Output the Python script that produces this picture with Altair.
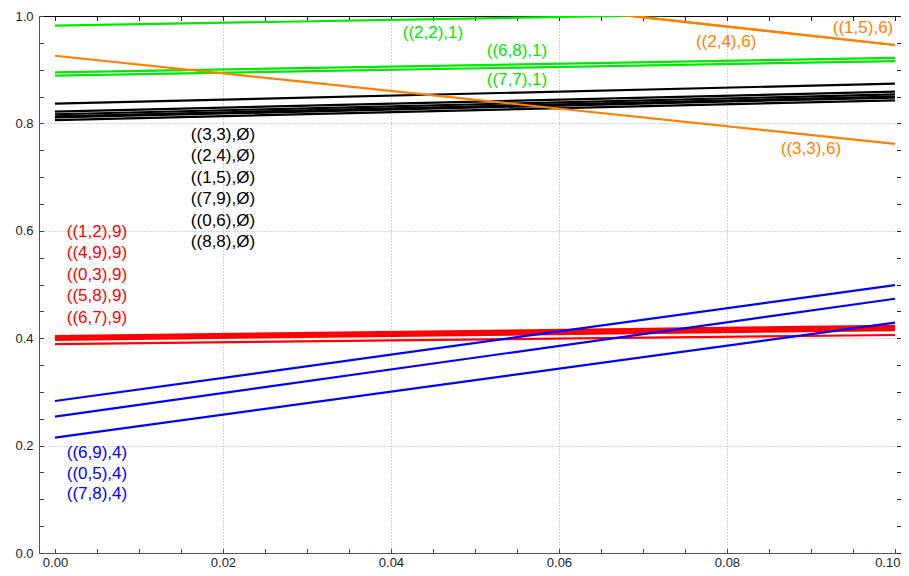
import altair as alt
import pandas as pd

# ---------------- data ----------------
series_names = [
    "((2,2),1)", "((6,8),1)", "((7,7),1)",
    "((3,3),Ø)", "((2,4),Ø)", "((1,5),Ø)", "((7,9),Ø)", "((0,6),Ø)", "((8,8),Ø)",
    "((1,2),9)", "((4,9),9)", "((0,3),9)", "((5,8),9)", "((6,7),9)",
    "((1,5),6)", "((2,4),6)", "((3,3),6)",
    "((6,9),4)", "((0,5),4)", "((7,8),4)",
]
series_group = [
    "1", "1", "1",
    "Ø", "Ø", "Ø", "Ø", "Ø", "Ø",
    "9", "9", "9", "9", "9",
    "6", "6", "6",
    "4", "4", "4",
]
series_start = [
    0.982, 0.895, 0.889,
    0.837, 0.822, 0.817, 0.813, 0.811, 0.806,
    0.404, 0.402, 0.399, 0.397, 0.389,
    1.118, 1.118, 0.926,
    0.283, 0.254, 0.215,
]
series_end = [
    1.009, 0.922, 0.916,
    0.874, 0.859, 0.854, 0.850, 0.848, 0.843,
    0.423, 0.421, 0.418, 0.415, 0.406,
    0.946, 0.946, 0.762,
    0.499, 0.4735, 0.429,
]
x_start = 0.0
x_end = 0.1

label_text = [
    "((2,2),1)", "((6,8),1)", "((7,7),1)",
    "((3,3),Ø)", "((2,4),Ø)", "((1,5),Ø)", "((7,9),Ø)", "((0,6),Ø)", "((8,8),Ø)",
    "((1,2),9)", "((4,9),9)", "((0,3),9)", "((5,8),9)", "((6,7),9)",
    "((1,5),6)", "((2,4),6)", "((3,3),6)",
    "((6,9),4)", "((0,5),4)", "((7,8),4)",
]
label_group = series_group
label_x = [
    0.0450, 0.0550, 0.0550,
    0.0200, 0.0200, 0.0200, 0.0200, 0.0200, 0.0200,
    0.0050, 0.0050, 0.0050, 0.0050, 0.0050,
    0.0962, 0.0799, 0.0900,
    0.0050, 0.0050, 0.0050,
]
label_y = [
    0.9685, 0.934, 0.8815,
    0.779, 0.739, 0.699, 0.659, 0.619, 0.580,
    0.598, 0.558, 0.518, 0.478, 0.438,
    0.977, 0.9524, 0.752,
    0.187, 0.148, 0.110,
]

groups = ["1", "Ø", "9", "6", "4"]
group_colors = ["#00e800", "#000000", "#ff0000", "#ff8000", "#0000ff"]
draw_order = ["1", "Ø", "9", "6", "4"]

x_ticks = [round(i * 0.005, 3) for i in range(21)]
y_ticks = [round(i * 0.05, 2) for i in range(21)]

# ---------------- tables ----------------
rows = []
for n, g, s, e in zip(series_names, series_group, series_start, series_end):
    rows.append({"series": n, "group": g, "x": x_start, "y": s})
    rows.append({"series": n, "group": g, "x": x_end, "y": e})
lines_df = pd.DataFrame(rows)
labels_df = pd.DataFrame({"text": label_text, "group": label_group,
                          "x": label_x, "y": label_y})

x_scale = alt.Scale(domain=[-0.0019, 0.10072], nice=False, zero=False)
y_scale = alt.Scale(domain=[0, 1], nice=False, zero=False)
color_scale = alt.Scale(domain=groups, range=group_colors)

x_major = "abs(datum.value*50 - round(datum.value*50)) < 1e-6"
y_major = "abs(datum.value*5 - round(datum.value*5)) < 1e-6"

bottom_axis = alt.Axis(
    orient="bottom", values=x_ticks, title=None,
    labelExpr=f"{x_major} ? format(datum.value, '.2f') : ''",
    labelAlign={"condition": {"test": "datum.value > 0.099", "value": "right"}, "value": "center"},
    labelOffset={"condition": {"test": "datum.value > 0.099", "value": 5}, "value": 0},
    tickSize={"expr": "-4.5"}, tickColor="#444", domainColor="#555",
    labelPadding=7.5, labelFontSize=13, labelColor="#222", labelFont="Liberation Sans",
    grid=True, gridColor="#aaaaaa", gridDash=[1, 2],
    gridOpacity={"condition": {"test": f"{x_major} && datum.value > 0.001 && datum.value < 0.099", "value": 1}, "value": 0},
)
left_axis = alt.Axis(
    orient="left", values=y_ticks, title=None,
    labelExpr=f"{y_major} ? format(datum.value, '.1f') : ''",
    tickSize={"expr": "-4.5"}, tickColor="#444", domainColor="#555",
    labelPadding=10.5, labelFontSize=13, labelColor="#222", labelFont="Liberation Sans",
    grid=True, gridColor="#aaaaaa", gridDash=[1, 2],
    gridOpacity={"condition": {"test": f"{y_major} && datum.value > 0.01 && datum.value < 0.99", "value": 1}, "value": 0},
)
top_axis = alt.Axis(
    orient="top", values=x_ticks, title=None, labels=False, grid=False,
    tickSize={"expr": "-4.5"}, tickColor="#222", domainColor="#000",
)
right_axis = alt.Axis(
    orient="right", values=y_ticks, title=None, labels=False, grid=False,
    tickSize={"expr": "-4.5"}, tickColor="#222", domain=False,
)

layers = []
for i, g in enumerate(draw_order):
    sub = lines_df[lines_df["group"] == g]
    layers.append(
        alt.Chart(sub).mark_line(clip=True, strokeWidth=2.2).encode(
            x=alt.X("x:Q", scale=x_scale, axis=bottom_axis if i == 0 else None),
            y=alt.Y("y:Q", scale=y_scale, axis=left_axis if i == 0 else None),
            color=alt.Color("group:N", scale=color_scale, legend=None),
            detail="series:N",
        )
    )

text_layer = alt.Chart(labels_df).mark_text(
    font="Liberation Sans", fontSize=17, align="center", baseline="middle"
).encode(
    x=alt.X("x:Q", scale=x_scale, axis=top_axis),
    y=alt.Y("y:Q", scale=y_scale, axis=right_axis),
    text="text:N",
    color=alt.Color("group:N", scale=color_scale, legend=None),
)
layers.append(text_layer)

chart = alt.layer(*layers).resolve_axis(x="independent", y="independent").properties(
    width=862, height=537,
    padding={"left": 31, "top": 8, "right": 0, "bottom": 15},
    autosize=alt.AutoSizeParams(type="none"),
    background="white",
).configure_view(stroke=None)

chart.save("out.html", embed_options={"renderer": "svg", "actions": False})
